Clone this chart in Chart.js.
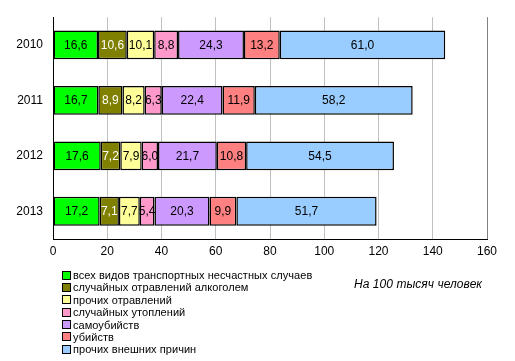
<!DOCTYPE html>
<html>
<head>
<meta charset="utf-8">
<script src="https://cdn.jsdelivr.net/npm/chart.js@4"></script>
<style>
html,body{margin:0;padding:0;background:#fff;}
#wrap{position:relative;width:515px;height:361px;}
#legend{position:absolute;left:62px;top:269px;font:11px "Liberation Sans",Arial,sans-serif;color:#000;}
#legend div{height:12.4px;line-height:12.4px;white-space:nowrap;letter-spacing:0.05px;}
#legend span{display:inline-block;width:7px;height:7px;border:1px solid #000;margin-right:2px;vertical-align:-0.5px;}
#note{position:absolute;left:354px;top:277px;font:italic 12px "Liberation Sans",Arial,sans-serif;color:#000;white-space:nowrap;letter-spacing:0.05px;}
</style>
</head>
<body>
<div id="wrap">
<canvas id="c" width="515" height="361"></canvas>
<div id="legend"></div>
<div id="note">На 100 тысяч человек</div>
</div>
<script>
const categories = ['2010', '2011', '2012', '2013'];
const seriesNames = [
  'всех видов транспортных несчастных случаев',
  'случайных отравлений алкоголем',
  'прочих отравлений',
  'случайных утоплений',
  'самоубийств',
  'убийств',
  'прочих внешних причин'
];
const transport = [16.6, 16.7, 17.6, 17.2];
const alcohol = [10.6, 8.9, 7.2, 7.1];
const otherPoison = [10.1, 8.2, 7.9, 7.7];
const drowning = [8.8, 6.3, 6.0, 5.4];
const suicide = [24.3, 22.4, 21.7, 20.3];
const murder = [13.2, 11.9, 10.8, 9.9];
const otherExternal = [61.0, 58.2, 54.5, 51.7];
const xTicks = [0, 20, 40, 60, 80, 100, 120, 140, 160];

const seriesValues = [transport, alcohol, otherPoison, drowning, suicide, murder, otherExternal];
const colors = ['#00FF00', '#808000', '#FFFF99', '#FF99CC', '#CC99FF', '#FF8080', '#99CCFF'];
const labelColors = ['#000', '#fff', '#000', '#000', '#000', '#000', '#000'];

const datasets = seriesValues.map((v, i) => ({
  label: seriesNames[i],
  data: v,
  backgroundColor: colors[i],
  borderColor: '#000',
  borderWidth: 1.5,
  borderSkipped: false,
  barPercentage: 1,
  categoryPercentage: 0.52
}));

const valueLabels = {
  id: 'valueLabels',
  afterDatasetsDraw(chart) {
    const ctx = chart.ctx;
    ctx.save();
    ctx.font = '12px "Liberation Sans", Arial, sans-serif';
    ctx.textAlign = 'center';
    ctx.textBaseline = 'middle';
    chart.data.datasets.forEach((ds, i) => {
      const meta = chart.getDatasetMeta(i);
      meta.data.forEach((el, j) => {
        const v = ds.data[j];
        const cx = (el.x + el.base) / 2;
        ctx.fillStyle = labelColors[i];
        ctx.fillText(v.toFixed(1).replace('.', ','), cx, el.y + 0.5);
      });
    });
    ctx.restore();
  }
};

new Chart(document.getElementById('c'), {
  type: 'bar',
  data: { labels: categories, datasets },
  options: {
    indexAxis: 'y',
    responsive: false,
    animation: false,
    events: [],
    layout: { padding: { left: 0, right: 28, top: 15, bottom: 100 } },
    plugins: { legend: { display: false }, tooltip: { enabled: false } },
    scales: {
      x: {
        stacked: true,
        min: 0, max: 160,
        afterBuildTicks(s) { s.ticks = xTicks.map(v => ({ value: v })); },
        afterFit(s) { s.height = 22; },
        grid: {
          color: ctx => ctx.tick && ctx.tick.value === 160 ? '#808080' : '#c0c0c0',
          lineWidth: 1,
          drawTicks: false
        },
        border: { color: '#000', width: 1 },
        ticks: {
          color: '#000',
          padding: 5,
          font: { family: '"Liberation Sans", Arial, sans-serif', size: 12 },
          callback: v => String(v)
        }
      },
      y: {
        stacked: true,
        afterFit(s) { s.width = 53; },
        grid: { display: false, drawTicks: false },
        border: { color: '#000', width: 1 },
        ticks: {
          color: '#000',
          padding: 10,
          font: { family: '"Liberation Sans", Arial, sans-serif', size: 12 }
        }
      }
    }
  },
  plugins: [valueLabels]
});

const lg = document.getElementById('legend');
seriesNames.forEach((n, i) => {
  const d = document.createElement('div');
  const s = document.createElement('span');
  s.style.background = colors[i];
  d.appendChild(s);
  d.appendChild(document.createTextNode(n));
  lg.appendChild(d);
});
</script>
</body>
</html>
